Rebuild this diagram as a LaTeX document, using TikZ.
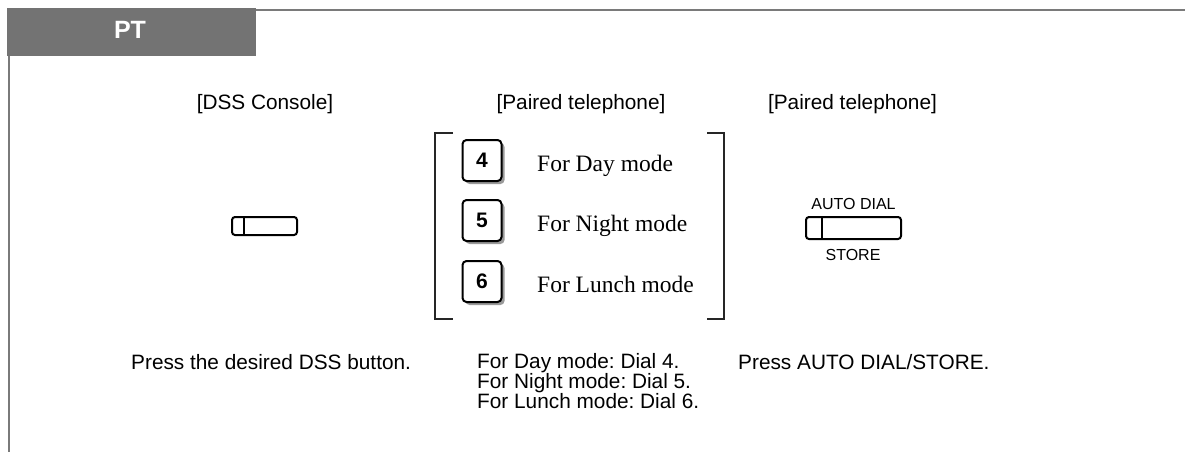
\documentclass[tikz,border=0pt]{standalone}
\usepackage{fontspec}
\setmainfont{Liberation Sans}
\newfontfamily\serifrm{Liberation Serif}
\usetikzlibrary{shadows}
\definecolor{hdrgray}{HTML}{737373}
\definecolor{rulegray}{HTML}{7A7A7A}
\definecolor{shadowgray}{HTML}{9A9A9A}
\frenchspacing
\begin{document}
\begin{tikzpicture}[x=1pt,y=-1pt,
  rule/.style={draw=rulegray,line width=2.2pt},
  lbl/.style={anchor=base,font=\fontsize{20.8}{20}\selectfont,inner sep=0pt},
  txt/.style={anchor=base west,font=\fontsize{20.8}{20}\selectfont,inner sep=0pt},
  keybox/.style={draw=black,fill=white,line width=2pt,rounded corners=4pt,
     minimum width=39pt,minimum height=41pt,inner sep=0pt,
     font=\bfseries\fontsize{21}{21}\selectfont,
     drop shadow={shadow xshift=3pt,shadow yshift=-3pt,fill=shadowgray,opacity=1}},
  modelbl/.style={anchor=base west,font=\serifrm\fontsize{23.5}{23.5}\selectfont,inner sep=0pt},
  brk/.style={draw=black!85,line width=1.3pt},
  btn/.style={draw=black,line width=2pt,rounded corners=3pt,inner sep=0pt},
  small/.style={anchor=base,font=\fontsize{16}{16}\selectfont,inner sep=0pt}]
\useasboundingbox (0,0) rectangle (1185,452);
% header
\fill[hdrgray] (7,8) rectangle (256,56);
\node[font=\bfseries\fontsize{25}{25}\selectfont,text=white,inner sep=0pt] (pt) at (130,30) {PT};
\draw[rule] (256,10) -- (1185,10);
\draw[rule] (8.6,56) -- (8.6,452);
% column titles
\node[lbl] (t1) at (265,109) {[DSS Console]};
\node[lbl] (t2) at (581,109) {[Paired telephone]};
\node[lbl] (t3) at (852.5,109) {[Paired telephone]};
% DSS button
\node[btn,minimum width=65pt,minimum height=18pt] (dss) at (264.5,226) {};
\draw[line width=2pt] ([xshift=13pt]dss.north west) -- ([xshift=13pt]dss.south west);
% keys
\node[keybox] (k4) at (482,160.5) {4};
\node[keybox] (k5) at (482,220.5) {5};
\node[keybox] (k6) at (482,281.5) {6};
\node[modelbl] (m4) at (537,171) {For Day mode};
\node[modelbl] (m5) at (537,231) {For Night mode};
\node[modelbl] (m6) at (537,292) {For Lunch mode};
% brackets
\coordinate (bl1) at (453,133); \coordinate (bl2) at (435,133);
\coordinate (bl3) at (435,319); \coordinate (bl4) at (453,319);
\draw[brk] (bl1) -- (bl2) -- (bl3) -- (bl4);
\coordinate (br1) at (707,133); \coordinate (br2) at (724,133);
\coordinate (br3) at (724,319); \coordinate (br4) at (707,319);
\draw[brk] (br1) -- (br2) -- (br3) -- (br4);
% AUTO DIAL button
\node[btn,minimum width=95pt,minimum height=22pt] (ad) at (853.5,228) {};
\draw[line width=2pt] ([xshift=17pt]ad.north west) -- ([xshift=17pt]ad.south west);
\node[small] (adl) at (853.5,209) {AUTO DIAL};
\node[small] (stl) at (853,260) {STORE};
% bottom texts
\node[txt] (b1) at (131,369) {Press the desired DSS button.};
\node[txt] (b2) at (477,368) {For Day mode: Dial 4.};
\node[txt] (b3) at (477,388) {For Night mode: Dial 5.};
\node[txt] (b4) at (477,408) {For Lunch mode: Dial 6.};
\node[txt] (b5) at (738,369) {Press AUTO DIAL/STORE.};
\end{tikzpicture}
\end{document}
